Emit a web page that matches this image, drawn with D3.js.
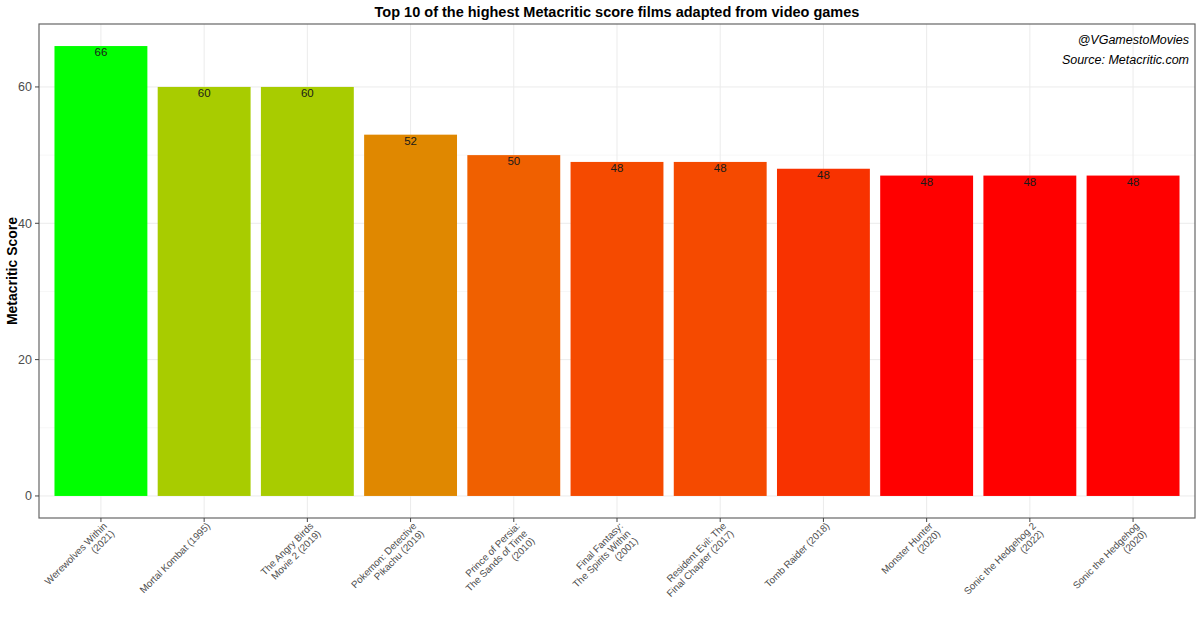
<!DOCTYPE html>
<html><head><meta charset="utf-8">
<script src="https://cdn.jsdelivr.net/npm/d3@7"></script>
<style>body{margin:0;background:#fff}svg{display:block;font-family:"Liberation Sans",Arial,sans-serif}</style>
</head><body><svg id="c" width="1200" height="623"></svg>
<script>
const films = ["Werewolves Within\n(2021)","Mortal Kombat (1995)","The Angry Birds\nMovie 2 (2019)","Pokemon: Detective\nPikachu (2019)","Prince of Persia:\nThe Sands of Time\n(2010)","Final Fantasy:\nThe Spirits Within\n(2001)","Resident Evil: The\nFinal Chapter (2017)","Tomb Raider (2018)","Monster Hunter\n(2020)","Sonic the Hedgehog 2\n(2022)","Sonic the Hedgehog\n(2020)"];
const scores = [66,60,60,53,50,49,49,48,47,47,47];
const scoreLabels = ["66","60","60","52","50","48","48","48","48","48","48"];
const yTicks = [0,20,40,60];
const yMinor = [10,30,50];
const title = "Top 10 of the highest Metacritic score films adapted from video games";
const yTitle = "Metacritic Score";
const notes = ["@VGamestoMovies","Source: Metacritic.com"];

const svg = d3.select("#c");
const L = 39, R = 1195, T = 24, B = 518;
const maxV = d3.max(scores), pad = maxV*0.049;
const y = d3.scaleLinear().domain([-pad, maxV+pad]).range([B, T]);
const x = d3.scaleBand().domain(films).range([L, R]).paddingInner(0.1).paddingOuter(0.15);
const cx = d => x(d) + x.bandwidth()/2;
const color = d3.scaleLinear().domain([47,48,49,50,53,60,66])
  .range(["#ff0000","#f83200","#f54a00","#f06000","#e08800","#a8cc00","#00ff00"]);

// grid
const g = svg.append("g");
g.selectAll(".mn").data(yMinor).join("line").attr("x1",L).attr("x2",R)
  .attr("y1",d=>y(d)).attr("y2",d=>y(d)).attr("stroke","#f2f2f2").attr("stroke-width",0.6);
g.selectAll(".mj").data(yTicks).join("line").attr("x1",L).attr("x2",R)
  .attr("y1",d=>y(d)).attr("y2",d=>y(d)).attr("stroke","#ebebeb").attr("stroke-width",1);
g.selectAll(".vx").data(films).join("line").attr("y1",T).attr("y2",B)
  .attr("x1",cx).attr("x2",cx).attr("stroke","#ebebeb").attr("stroke-width",1);

// bars
svg.selectAll(".bar").data(films).join("rect")
  .attr("x",d=>x(d)).attr("width",x.bandwidth())
  .attr("y",(d,i)=>y(scores[i])).attr("height",(d,i)=>y(0)-y(scores[i]))
  .attr("fill",(d,i)=>color(scores[i]));

// bar labels
svg.selectAll(".bl").data(films).join("text")
  .attr("x",cx).attr("y",(d,i)=>y(scores[i])+10)
  .attr("text-anchor","middle").attr("font-size",11.5).attr("fill","#1a1a1a")
  .text((d,i)=>scoreLabels[i]);

// border
svg.append("rect").attr("x",L).attr("y",T).attr("width",R-L).attr("height",B-T)
  .attr("fill","none").attr("stroke","#666").attr("stroke-width",1.2);

// y axis
const ya = svg.append("g");
ya.selectAll("line").data(yTicks).join("line").attr("x1",L-4).attr("x2",L)
  .attr("y1",d=>y(d)).attr("y2",d=>y(d)).attr("stroke","#444");
ya.selectAll("text").data(yTicks).join("text").attr("x",L-7).attr("y",d=>y(d)).attr("dy","0.35em")
  .attr("text-anchor","end").attr("font-size",12.5).attr("fill","#4d4d4d").text(d=>d);

// x axis
const xa = svg.append("g");
xa.selectAll("line").data(films).join("line").attr("y1",B).attr("y2",B+4)
  .attr("x1",cx).attr("x2",cx).attr("stroke","#444");
const lab = xa.selectAll("g").data(films).join("g")
  .attr("transform",d=>`translate(${cx(d)+1},${B+3}) rotate(-45)`);
lab.each(function(d){
  const lines = d.split("\n");
  const t = d3.select(this).append("text").attr("text-anchor","end").attr("font-size",9.8).attr("fill","#4d4d4d");
  lines.forEach((ln,k)=>t.append("tspan").attr("x",0).attr("y",8+k*10.5).text(ln));
});

// titles
svg.append("text").attr("x",(L+R)/2).attr("y",17).attr("text-anchor","middle")
  .attr("font-size",14.5).attr("font-weight","bold").attr("fill","#000").text(title);
svg.append("text").attr("transform",`translate(17,${(T+B)/2}) rotate(-90)`).attr("text-anchor","middle")
  .attr("font-size",14).attr("font-weight","bold").attr("fill","#000").text(yTitle);
svg.selectAll(".note").data(notes).join("text").attr("x",R-6).attr("y",(d,i)=>44+i*20)
  .attr("text-anchor","end").attr("font-size",12.5).attr("font-style","italic").attr("fill","#000").text(d=>d);
</script></body></html>
